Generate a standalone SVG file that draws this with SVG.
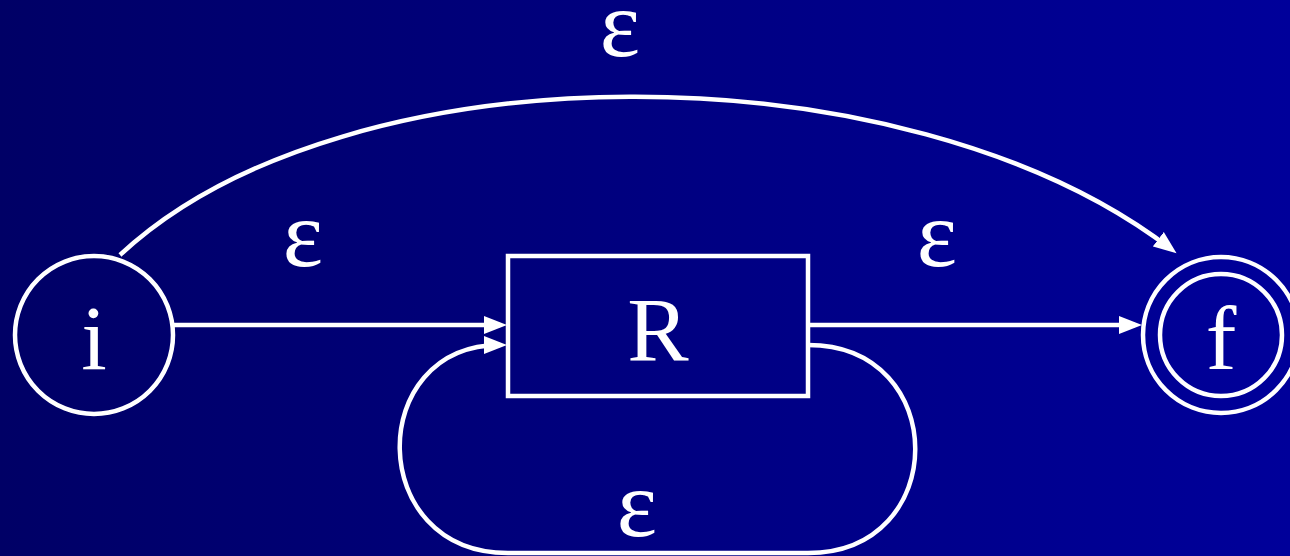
<svg xmlns="http://www.w3.org/2000/svg" width="1290" height="556" viewBox="0 0 1290 556">
<defs>
<linearGradient id="bg" x1="0" y1="0" x2="1" y2="0">
<stop offset="0" stop-color="#000066"/>
<stop offset="1" stop-color="#00009A"/>
</linearGradient>
<marker id="arr" markerUnits="userSpaceOnUse" markerWidth="24" markerHeight="20" viewBox="0 0 24 20" refX="16" refY="10" orient="auto">
<path d="M0,1 L23,10 L0,19 Z" fill="#fff"/>
</marker>
<style>
.ln{fill:none;stroke:#fff;stroke-width:4.5}
.lbl{font-family:"Liberation Serif","Times New Roman",serif;fill:#fff;text-anchor:middle}
.eps{font-size:96px}
.big{font-size:92px}
</style>
</defs>
<rect width="1290" height="556" fill="url(#bg)"/>
<g id="node-i">
<circle class="ln" cx="94" cy="335" r="79"/>
<text class="lbl big" x="94" y="369">i</text>
</g>
<g id="node-R">
<rect class="ln" x="508" y="256" width="300" height="140"/>
<text class="lbl big" x="658" y="361">R</text>
</g>
<g id="node-f">
<circle class="ln" cx="1221" cy="335" r="78"/>
<circle class="ln" cx="1221" cy="335" r="61"/>
<text class="lbl big" x="1221" y="369">f</text>
</g>
<g id="connectors">
<path class="ln" d="M120,255 C 345,45 905,45 1171,249" marker-end="url(#arr)"/>
<path class="ln" d="M174,325 H500" marker-end="url(#arr)"/>
<path class="ln" d="M808,325 H1135" marker-end="url(#arr)"/>
<path class="ln" d="M808,345 C 951,345 951,553 808,553 H508 C 365,553 365,345 500,345" marker-end="url(#arr)"/>
<text class="lbl eps" x="620" y="56">ε</text>
<text class="lbl eps" x="303" y="266">ε</text>
<text class="lbl eps" x="937" y="266">ε</text>
<text class="lbl eps" x="637" y="536">ε</text>
</g>
</svg>
